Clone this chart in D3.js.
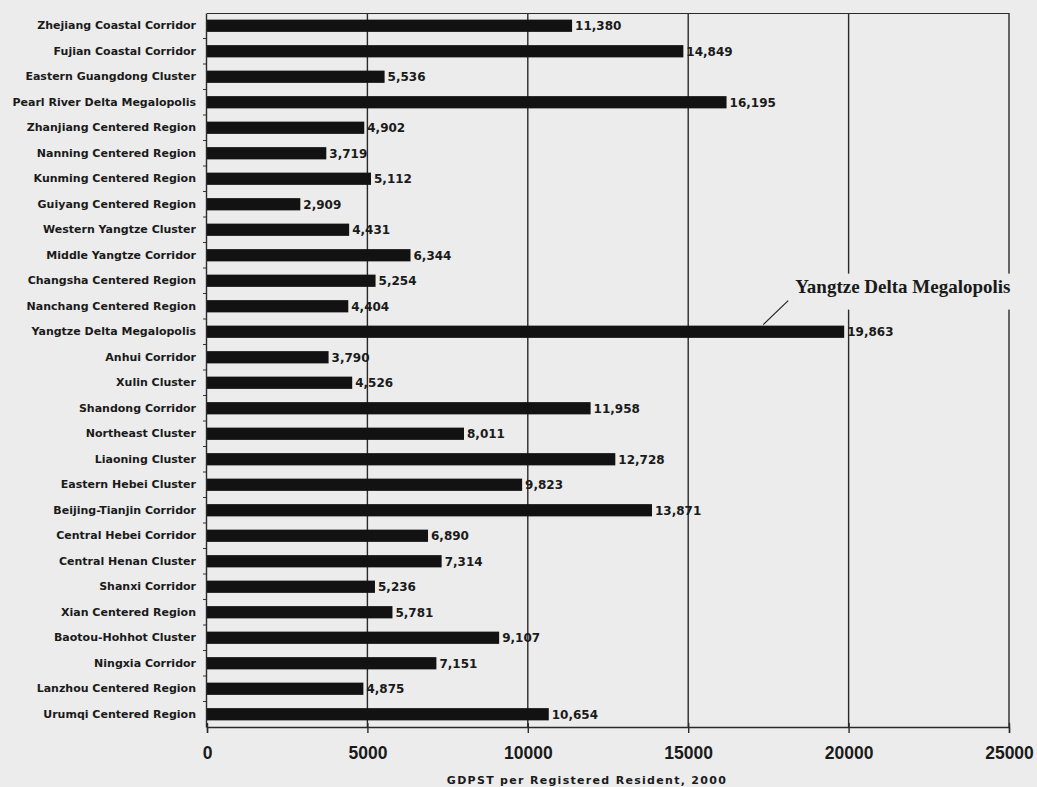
<!DOCTYPE html>
<html>
<head>
<meta charset="utf-8">
<script src="https://cdn.jsdelivr.net/npm/d3@7"></script>
<style>
  html, body { margin: 0; padding: 0; background: #ececec; }
  svg { display: block; }
</style>
</head>
<body>
<svg id="chart" width="1037" height="787"></svg>
<script>
// Regions, listed from top to bottom
const regions = [
  "Zhejiang Coastal Corridor", "Fujian Coastal Corridor", "Eastern Guangdong Cluster",
  "Pearl River Delta Megalopolis", "Zhanjiang Centered Region", "Nanning Centered Region",
  "Kunming Centered Region", "Guiyang Centered Region", "Western Yangtze Cluster",
  "Middle Yangtze Corridor", "Changsha Centered Region", "Nanchang Centered Region",
  "Yangtze Delta Megalopolis", "Anhui Corridor", "Xulin Cluster", "Shandong Corridor",
  "Northeast Cluster", "Liaoning Cluster", "Eastern Hebei Cluster", "Beijing-Tianjin Corridor",
  "Central Hebei Corridor", "Central Henan Cluster", "Shanxi Corridor", "Xian Centered Region",
  "Baotou-Hohhot Cluster", "Ningxia Corridor", "Lanzhou Centered Region", "Urumqi Centered Region"
];

// GDPST per registered resident, 2000
const gdpst = [
  11380, 14849, 5536, 16195, 4902, 3719, 5112, 2909, 4431, 6344, 5254, 4404,
  19863, 3790, 4526, 11958, 8011, 12728, 9823, 13871, 6890, 7314, 5236, 5781,
  9107, 7151, 4875, 10654
];

const xTicks = [0, 5000, 10000, 15000, 20000, 25000];
const xTitle = "GDPST per Registered Resident, 2000";
const callout = "Yangtze Delta Megalopolis";

const bg = "#ececec";
const ink = "#1a1a1a";
const rule = "#2a2a2a";

const svg = d3.select("#chart");
const margin = { left: 207, right: 1009, top: 13, bottom: 727 };

const x = d3.scaleLinear().domain([0, 25000]).range([margin.left, margin.right]);
const y = d3.scaleBand().domain(regions).range([margin.top, margin.bottom])
  .paddingInner(0.52).paddingOuter(0.26);

// vertical grid lines
svg.append("g")
  .selectAll("line")
  .data(xTicks.slice(1))
  .join("line")
  .attr("x1", d => x(d)).attr("x2", d => x(d))
  .attr("y1", margin.top).attr("y2", margin.bottom)
  .attr("stroke", rule).attr("stroke-width", 1.4);

// top frame line
svg.append("line")
  .attr("x1", margin.left).attr("x2", margin.right)
  .attr("y1", margin.top + 0.5).attr("y2", margin.top + 0.5)
  .attr("stroke", rule).attr("stroke-width", 1.2);

// bars
svg.append("g")
  .selectAll("rect")
  .data(regions)
  .join("rect")
  .attr("x", x(0))
  .attr("y", d => y(d))
  .attr("width", (d, i) => x(gdpst[i]) - x(0))
  .attr("height", y.bandwidth())
  .attr("fill", "#121212");

// value labels
svg.append("g")
  .selectAll("text")
  .data(regions)
  .join("text")
  .attr("x", (d, i) => x(gdpst[i]) + 3)
  .attr("y", d => y(d) + y.bandwidth() / 2)
  .attr("dy", "0.36em")
  .attr("font-family", "DejaVu Sans, Verdana, sans-serif")
  .attr("font-weight", "bold")
  .attr("font-size", 12)
  .attr("fill", ink)
  .text((d, i) => d3.format(",")(gdpst[i]));

// y axis: line, tick marks and region names
const yAxis = svg.append("g").attr("transform", `translate(${margin.left - 1},0)`)
  .call(d3.axisLeft(y).tickSize(0).tickPadding(10));
yAxis.select(".domain").attr("stroke", rule).attr("stroke-width", 1.4);
yAxis.selectAll("text")
  .attr("font-family", "DejaVu Sans, Verdana, sans-serif")
  .attr("font-weight", "bold")
  .attr("font-size", 11)
  .attr("fill", ink);
yAxis.selectAll(".sep")
  .data(regions.slice(1))
  .join("line")
  .attr("class", "sep")
  .attr("x1", -3).attr("x2", 0)
  .attr("y1", d => y(d) - y.step() * y.paddingInner() / 2)
  .attr("y2", d => y(d) - y.step() * y.paddingInner() / 2)
  .attr("stroke", "#333");

// x axis
const xAxis = svg.append("g").attr("transform", `translate(0,${margin.bottom})`)
  .call(d3.axisBottom(x).tickValues(xTicks).tickFormat(d3.format("d"))
    .tickSizeOuter(0).tickSize(6).tickPadding(14));
xAxis.select(".domain").attr("stroke", rule).attr("stroke-width", 1.4);
xAxis.selectAll(".tick line").attr("stroke", rule).attr("stroke-width", 1.4).attr("y1", -4);
xAxis.selectAll("text")
  .attr("font-family", "Liberation Sans, Arial, sans-serif")
  .attr("font-weight", "bold")
  .attr("font-size", 17.5)
  .attr("fill", ink);

// x axis title
svg.append("text")
  .attr("x", 587).attr("y", 784)
  .attr("text-anchor", "middle")
  .attr("font-family", "DejaVu Sans, Verdana, sans-serif")
  .attr("font-weight", "bold")
  .attr("font-size", 11)
  .attr("letter-spacing", 1.3)
  .attr("fill", ink)
  .text(xTitle);

// callout for the largest region
const cIdx = regions.indexOf(callout);
const cy = y(callout);
const cx = x(gdpst[cIdx]);
const label = svg.append("g");
const baseline = cy - 33;
const lt = label.append("text")
  .attr("x", cx - 49).attr("y", baseline)
  .attr("font-family", "Liberation Serif, Times New Roman, serif")
  .attr("font-weight", "bold")
  .attr("font-size", 19)
  .attr("fill", ink)
  .text(callout);
const bb = lt.node().getBBox();
label.insert("rect", "text")
  .attr("x", bb.x - 3).attr("y", baseline - 19)
  .attr("width", bb.width + 6).attr("height", 36)
  .attr("fill", bg);
svg.append("line")
  .attr("x1", cx - 81).attr("y1", cy - 1)
  .attr("x2", cx - 56).attr("y2", cy - 25)
  .attr("stroke", "#222").attr("stroke-width", 1.2);
</script>
</body>
</html>
